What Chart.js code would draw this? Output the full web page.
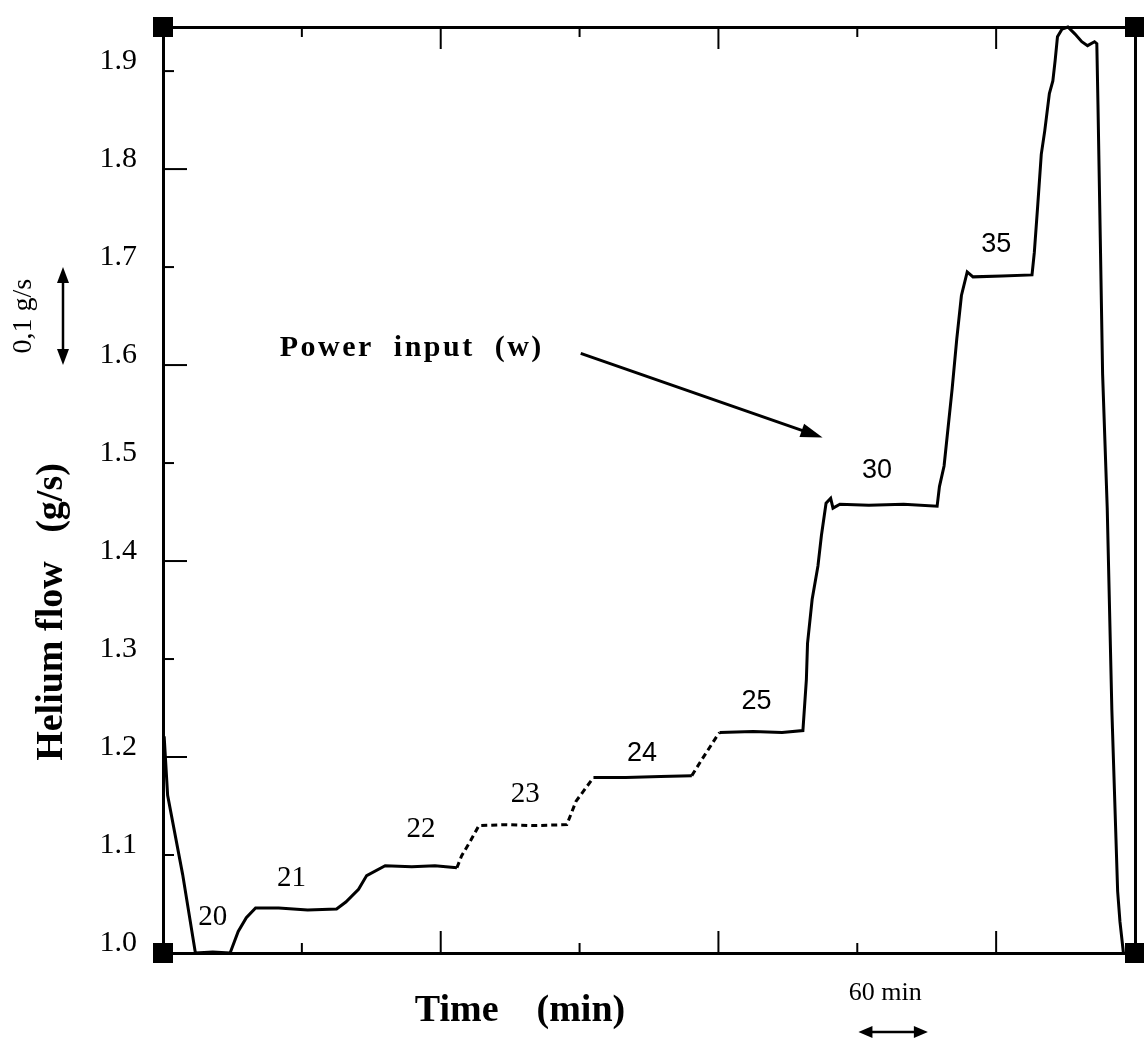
<!DOCTYPE html>
<html>
<head>
<meta charset="utf-8">
<script src="https://cdn.jsdelivr.net/npm/chart.js@4.4.1/dist/chart.umd.min.js"></script>
<style>
  html, body { margin: 0; padding: 0; background: #fff; }
  #wrap { width: 1144px; height: 1041px; }
</style>
</head>
<body>
<div id="wrap"><canvas id="chart" width="1144" height="1041"></canvas></div>
<script>
// Trace of the helium flow.
// time in minutes from the left edge, flow in g/s
const timeMin = [1, 4, 17, 28, 43, 58, 65, 72, 80, 100, 125, 150, 158, 169, 176, 192, 215, 235, 254, 258,
  266, 273, 295, 320, 349, 357, 372, 400, 430, 457, 466, 478, 481, 510, 535, 553, 556, 557, 561, 566,
  569, 573, 577, 579, 585, 610, 640, 669, 671, 675, 682, 686, 690, 695, 700, 725, 751, 753, 756, 759,
  762, 766, 769, 771, 773, 777, 782, 788, 794, 799, 805, 807, 808, 810, 812, 816, 820, 825, 827, 830];
const heliumFlow = [1.221, 1.161, 1.08, 1.0, 1.001, 1.0, 1.022, 1.036, 1.046, 1.046, 1.044, 1.045, 1.052, 1.065, 1.079, 1.089, 1.088, 1.089, 1.087, 1.099,
  1.115, 1.130, 1.131, 1.130, 1.131, 1.155, 1.179, 1.179, 1.180, 1.181, 1.198, 1.220, 1.225, 1.226, 1.225, 1.227, 1.279, 1.316, 1.361, 1.395,
  1.426, 1.459, 1.464, 1.454, 1.458, 1.457, 1.458, 1.456, 1.476, 1.497, 1.576, 1.627, 1.671, 1.695, 1.690, 1.691, 1.692, 1.715, 1.764, 1.815,
  1.839, 1.877, 1.890, 1.911, 1.935, 1.943, 1.945, 1.938, 1.930, 1.926, 1.930, 1.928, 1.866, 1.729, 1.591, 1.454, 1.248, 1.063, 1.032, 1.0];

// parts of the trace that are printed dashed
const dashedFrom = [254, 457];
const dashedTo = [372, 481];

// axis ticks
const yTickValues = [1.0, 1.1, 1.2, 1.3, 1.4, 1.5, 1.6, 1.7, 1.8, 1.9];
const xTickValues = [120, 240, 360, 480, 600, 720];

// power input (W) written over each plateau
const stepLabels = ['20', '21', '22', '23', '24', '25', '30', '35'];
const stepLabelTime = [43, 111, 223, 313, 414, 513, 617, 720];
const stepLabelFlow = [1.036, 1.076, 1.126, 1.162, 1.204, 1.257, 1.492, 1.723];

// "Power input (w)" note and its arrow
const noteTime = 215, noteFlow = 1.617;
const noteArrowTime = [361, 570];
const noteArrowFlow = [1.612, 1.526];

// scale bars
const flowBar = [1.6, 1.7];
const timeBarMin = 60;
const timeBarCenter = 631;

function isDashed(t) {
  for (let i = 0; i < dashedFrom.length; i++) {
    if (t >= dashedFrom[i] && t < dashedTo[i]) return true;
  }
  return false;
}

function line(ctx, x1, y1, x2, y2) {
  ctx.beginPath();
  ctx.moveTo(x1, y1);
  ctx.lineTo(x2, y2);
  ctx.stroke();
}

function arrowHead(ctx, x, y, angle, len, half) {
  ctx.save();
  ctx.translate(x, y);
  ctx.rotate(angle);
  ctx.beginPath();
  ctx.moveTo(0, 0);
  ctx.lineTo(-len, -half);
  ctx.lineTo(-len, half);
  ctx.closePath();
  ctx.fill();
  ctx.restore();
}

const serif = 'Liberation Serif';
const sans = 'Liberation Sans';

// Ticks pointing into the plot, corner squares and all the writing
const decorations = {
  id: 'decorations',
  afterDraw(chart) {
    const { ctx, chartArea: area, scales: { x, y } } = chart;
    ctx.save();
    ctx.strokeStyle = '#000';
    ctx.fillStyle = '#000';

    ctx.lineWidth = 2;
    yTickValues.forEach(v => {
      const py = y.getPixelForValue(v);
      const len = Math.round(v * 10) % 2 === 0 ? 24 : 11;
      line(ctx, area.left, py, area.left + len, py);
    });
    xTickValues.forEach((t, i) => {
      const px = x.getPixelForValue(t);
      const len = i % 2 === 1 ? 22 : 10;
      line(ctx, px, area.bottom, px, area.bottom - len);
      line(ctx, px, area.top, px, area.top + len);
    });

    const s = 20;
    [[area.left, area.top], [area.right, area.top], [area.left, area.bottom], [area.right, area.bottom]]
      .forEach(([cx, cy]) => ctx.fillRect(cx - s / 2, cy - s / 2, s, s));

    ctx.textAlign = 'center';
    ctx.textBaseline = 'middle';

    stepLabels.forEach((txt, i) => {
      ctx.font = (i < 4 ? '29px ' + serif : '27px ' + sans);
      ctx.fillText(txt, x.getPixelForValue(stepLabelTime[i]), y.getPixelForValue(stepLabelFlow[i]));
    });

    // note with arrow
    ctx.font = 'bold 30px ' + serif;
    ctx.letterSpacing = '2.5px';
    ctx.fillText('Power  input  (w)', x.getPixelForValue(noteTime), y.getPixelForValue(noteFlow));
    ctx.letterSpacing = '0px';
    const ax1 = x.getPixelForValue(noteArrowTime[0]), ay1 = y.getPixelForValue(noteArrowFlow[0]);
    const ax2 = x.getPixelForValue(noteArrowTime[1]), ay2 = y.getPixelForValue(noteArrowFlow[1]);
    const ang = Math.atan2(ay2 - ay1, ax2 - ax1);
    ctx.lineWidth = 3;
    line(ctx, ax1, ay1, ax2 - 12 * Math.cos(ang), ay2 - 12 * Math.sin(ang));
    arrowHead(ctx, ax2, ay2, ang, 22, 7);

    // axis titles
    ctx.font = 'bold 38px ' + serif;
    ctx.fillText('Time    (min)', 520, 1011);
    ctx.save();
    ctx.translate(52, 612);
    ctx.rotate(-Math.PI / 2);
    ctx.fillText('Helium flow   (g/s)', 0, 0);
    ctx.restore();

    // 0,1 g/s bar on the left
    const bx = 63;
    const by1 = y.getPixelForValue(flowBar[1]), by2 = y.getPixelForValue(flowBar[0]);
    ctx.lineWidth = 2.5;
    line(ctx, bx, by1 + 10, bx, by2 - 10);
    arrowHead(ctx, bx, by1, -Math.PI / 2, 16, 6);
    arrowHead(ctx, bx, by2, Math.PI / 2, 16, 6);
    ctx.save();
    ctx.translate(24, (by1 + by2) / 2);
    ctx.rotate(-Math.PI / 2);
    ctx.font = '28px ' + serif;
    ctx.fillText('0,1 g/s', 0, 0);
    ctx.restore();

    // 60 min bar below the axis
    const tx1 = x.getPixelForValue(timeBarCenter - timeBarMin / 2);
    const tx2 = x.getPixelForValue(timeBarCenter + timeBarMin / 2);
    ctx.font = '26px ' + serif;
    ctx.fillText('60 min', (tx1 + tx2) / 2 - 8, 993);
    line(ctx, tx1 + 8, 1032, tx2 - 8, 1032);
    arrowHead(ctx, tx1, 1032, Math.PI, 14, 6);
    arrowHead(ctx, tx2, 1032, 0, 14, 6);

    ctx.restore();
  }
};

const frame = { display: true, color: '#000', width: 3 };

new Chart(document.getElementById('chart'), {
  type: 'line',
  data: {
    datasets: [{
      data: timeMin.map((t, i) => ({ x: t, y: heliumFlow[i] })),
      borderColor: '#000',
      borderWidth: 3,
      pointRadius: 0,
      tension: 0,
      clip: false,
      segment: {
        borderDash: c => isDashed(c.p0.parsed.x) ? [6, 4] : undefined
      }
    }]
  },
  options: {
    responsive: false,
    animation: false,
    layout: { padding: { top: 27, right: 9, left: 0, bottom: 0 } },
    plugins: { legend: { display: false }, tooltip: { enabled: false } },
    scales: {
      x: {
        type: 'linear', position: 'bottom', min: 0, max: 840,
        afterBuildTicks: s => { s.ticks = xTickValues.map(v => ({ value: v })); },
        afterFit: s => { s.height = 88; s.paddingLeft = 0; s.paddingRight = 0; },
        ticks: { display: false },
        grid: { display: false },
        border: frame
      },
      xTop: {
        type: 'linear', position: 'top', min: 0, max: 840,
        afterFit: s => { s.height = 0; s.paddingLeft = 0; s.paddingRight = 0; },
        ticks: { display: false },
        grid: { display: false },
        border: frame
      },
      y: {
        type: 'linear', position: 'left', min: 1.0, max: 1.945,
        afterBuildTicks: s => { s.ticks = yTickValues.map(v => ({ value: v })); },
        afterFit: s => { s.width = 163; s.paddingTop = 0; s.paddingBottom = 0; },
        ticks: {
          color: '#000', padding: 18, labelOffset: -10,
          font: { family: serif, size: 30 },
          callback: v => v.toFixed(1)
        },
        grid: { display: false },
        border: frame
      },
      yRight: {
        type: 'linear', position: 'right', min: 1.0, max: 1.945,
        afterFit: s => { s.width = 0; s.paddingTop = 0; s.paddingBottom = 0; },
        ticks: { display: false },
        grid: { display: false },
        border: frame
      }
    }
  },
  plugins: [decorations]
});
</script>
</body>
</html>
